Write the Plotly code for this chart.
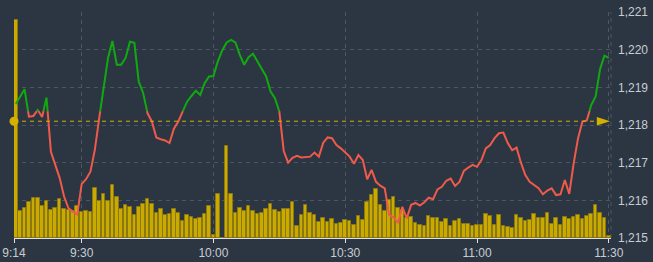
import plotly.graph_objects as go

# ---- data (minutes after 9:00, one point per minute from 9:15 to 11:30) ----
minutes = list(range(15, 151))

price = [
    1218.56, 1218.76, 1218.95, 1218.22, 1218.24, 1218.40, 1218.21, 1218.73, 1217.29, 1216.94,  # 9:15-9:24
    1216.59, 1216.10, 1215.79, 1215.70, 1215.63, 1216.43, 1216.56, 1216.76, 1217.34, 1218.18,  # 9:25-9:34
    1219.02, 1219.78, 1220.23, 1219.60, 1219.60, 1219.78, 1220.21, 1220.18, 1219.15, 1218.85,  # 9:35-9:44
    1218.31, 1218.09, 1217.67, 1217.62, 1217.59, 1217.52, 1217.90, 1218.09, 1218.36, 1218.62,  # 9:45-9:54
    1218.77, 1218.91, 1218.80, 1219.11, 1219.29, 1219.30, 1219.69, 1219.98, 1220.19, 1220.26,  # 9:55-10:04
    1220.19, 1219.86, 1219.60, 1219.80, 1219.89, 1219.69, 1219.51, 1219.29, 1218.89, 1218.71,  # 10:05-10:14
    1218.36, 1217.31, 1217.00, 1217.13, 1217.18, 1217.14, 1217.14, 1217.16, 1217.27, 1217.16,  # 10:15-10:24
    1217.53, 1217.67, 1217.65, 1217.47, 1217.38, 1217.27, 1217.16, 1216.97, 1217.20, 1217.07,  # 10:25-10:34
    1216.56, 1216.81, 1216.49, 1216.39, 1216.32, 1215.61, 1215.55, 1215.40, 1215.83, 1215.52,  # 10:35-10:44
    1215.88, 1215.93, 1215.86, 1215.95, 1216.07, 1216.03, 1216.29, 1216.36, 1216.52, 1216.58,  # 10:45-10:54
    1216.38, 1216.49, 1216.78, 1216.87, 1216.94, 1216.89, 1217.07, 1217.38, 1217.47, 1217.65,  # 10:55-11:04
    1217.78, 1217.80, 1217.52, 1217.33, 1217.40, 1217.00, 1216.67, 1216.49, 1216.40, 1216.32,  # 11:05-11:14
    1216.16, 1216.26, 1216.32, 1216.14, 1216.16, 1216.54, 1216.17, 1216.98, 1217.65, 1218.09,  # 11:15-11:24
    1218.12, 1218.53, 1218.76, 1219.48, 1219.84, 1219.78,                                      # 11:25-11:30
]

volume = [
    217.3, 27.3, 30.3, 36.3, 40.3, 39.7, 32.0, 36.7, 28.0, 30.0,
    38.7, 29.0, 28.0, 27.3, 32.0, 26.3, 26.7, 25.7, 50.0, 36.7,
    43.7, 37.0, 53.0, 40.7, 28.7, 32.7, 30.7, 23.0, 31.3, 33.7,
    39.3, 33.7, 25.3, 28.7, 22.7, 24.0, 29.3, 25.3, 16.7, 23.3,
    21.0, 19.3, 20.0, 23.7, 32.0, 2.7, 43.7, 0.0, 92.3, 43.7,
    24.7, 30.3, 27.0, 32.0, 27.0, 24.3, 24.7, 29.0, 34.0, 28.3,
    25.7, 29.0, 29.0, 35.7, 12.3, 22.7, 33.0, 24.7, 23.0, 15.7,
    20.3, 16.3, 19.3, 14.3, 15.0, 18.3, 17.0, 13.3, 22.3, 17.7,
    36.0, 43.0, 49.0, 32.7, 27.0, 37.7, 41.3, 30.3, 27.7, 20.0,
    20.7, 14.7, 13.0, 12.0, 21.7, 20.0, 20.3, 16.0, 18.7, 12.3,
    16.7, 18.7, 14.3, 14.3, 11.7, 13.3, 13.3, 24.0, 22.0, 13.0,
    22.7, 12.3, 11.3, 10.3, 23.0, 19.7, 17.0, 18.0, 24.0, 19.7,
    19.7, 25.0, 13.7, 19.7, 12.7, 20.7, 18.7, 20.7, 22.7, 18.7,
    21.7, 24.0, 32.7, 25.0, 20.3, 2.0,
]

prev_close = 1218.10
color_threshold = 1218.37

x_ticks = [14.6, 30, 60, 90, 120, 150]
x_tick_labels = ["9:14", "9:30", "10:00", "10:30", "11:00", "11:30"]
y_ticks = [1215, 1216, 1217, 1218, 1219, 1220, 1221]

# ---- styles ----
BG = "#2b3642"
GRID = "#4c5560"
GREEN = "#10aa10"
RED = "#ef5a4a"
GOLD = "#d4b000"
BAR = "#cbaa00"
BAR_EDGE = "#8a7812"
TXT = "#c9cdd2"

# split the price line into green (above threshold) / red (below)
green_x, green_y, red_x, red_y = [], [], [], []


def add_piece(up, p0, p1):
    xs, ys = (green_x, green_y) if up else (red_x, red_y)
    if xs and xs[-1] == p0[0] and ys[-1] == p0[1]:
        xs.append(p1[0]); ys.append(p1[1])
    else:
        if xs:
            xs.append(None); ys.append(None)
        xs.extend([p0[0], p1[0]]); ys.extend([p0[1], p1[1]])


for i in range(len(minutes) - 1):
    x0, y0, x1, y1 = minutes[i], price[i], minutes[i + 1], price[i + 1]
    u0, u1 = y0 >= color_threshold, y1 >= color_threshold
    if u0 == u1:
        add_piece(u0, (x0, y0), (x1, y1))
    else:
        t = (color_threshold - y0) / (y1 - y0)
        xc = x0 + t * (x1 - x0)
        add_piece(u0, (x0, y0), (xc, color_threshold))
        add_piece(u1, (xc, color_threshold), (x1, y1))

fig = go.Figure()
fig.add_trace(go.Bar(x=minutes, y=volume, width=0.82, yaxis="y",
                     marker=dict(color=BAR, line=dict(color=BAR_EDGE, width=1))))
fig.add_trace(go.Scatter(x=red_x, y=red_y, mode="lines", yaxis="y2",
                         line=dict(color=RED, width=2)))
fig.add_trace(go.Scatter(x=green_x, y=green_y, mode="lines", yaxis="y2",
                         line=dict(color=GREEN, width=2)))
# previous close markers
fig.add_trace(go.Scatter(x=[x_ticks[0]], y=[prev_close], mode="markers", yaxis="y2",
                         cliponaxis=False, marker=dict(color=GOLD, size=9)))
fig.add_trace(go.Scatter(x=[150.3], y=[prev_close], mode="markers", yaxis="y2",
                         cliponaxis=False,
                         marker=dict(color=GOLD, size=14, symbol="arrow", angle=90)))

fig.add_shape(type="line", xref="x", yref="y2", x0=x_ticks[0], x1=148.4,
              y0=prev_close, y1=prev_close, layer="above",
              line=dict(color=GOLD, width=1, dash="4px,4px"))
fig.add_shape(type="line", xref="paper", yref="paper", x0=1, x1=1, y0=0, y1=1,
              layer="below", line=dict(color=GRID, width=1, dash="4px,4px"))

fig.update_layout(
    width=653, height=262,
    margin=dict(l=14, r=42, t=12.3, b=24, autoexpand=False),
    paper_bgcolor=BG, plot_bgcolor=BG,
    showlegend=False,
    font=dict(family="Arial, Liberation Sans, sans-serif", size=12, color=TXT),
    xaxis=dict(range=[14.6, 150.5], tickvals=x_ticks, ticktext=x_tick_labels,
               automargin=False,
               showgrid=True, gridcolor=GRID, griddash="4px,4px", gridwidth=1,
               showline=True, linecolor="#dfe2e5", linewidth=1,
               ticks="outside", ticklen=4, tickcolor="#dfe2e5",
               zeroline=False, tickfont=dict(size=12, color=TXT)),
    yaxis=dict(range=[0, 225.7], visible=False, showgrid=False, zeroline=False,
               automargin=False),
    yaxis2=dict(range=[1215, 1221], overlaying="y", side="right",
                automargin=False,
                tickvals=y_ticks, tickformat=",d",
                showgrid=True, gridcolor=GRID, griddash="4px,4px", gridwidth=1,
                zeroline=False, showline=False, ticks="",
                ticklabelstandoff=6,
                tickfont=dict(size=12, color=TXT)),
    bargap=0,
)

fig.write_html("out.html")
